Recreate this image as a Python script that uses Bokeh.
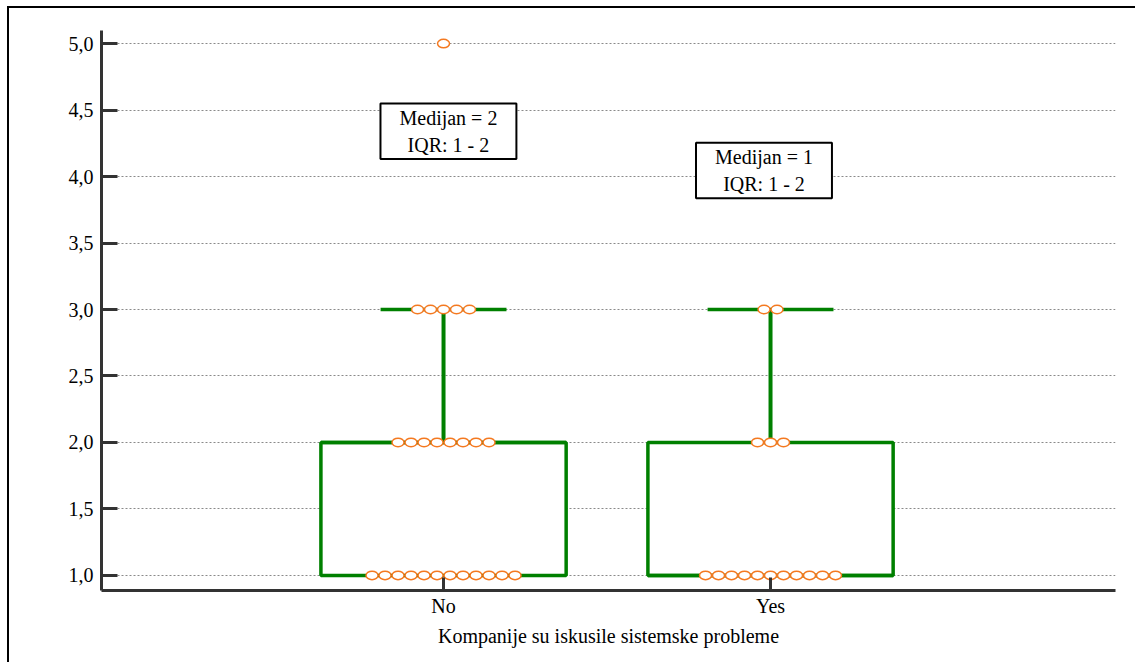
import numpy as np
from bokeh.plotting import figure
from bokeh.models import FixedTicker, CustomJSTickFormatter, Label
from bokeh.embed import file_html
from bokeh.resources import INLINE

# ---- data ----
categories = ["No", "Yes"]
no_levels = [1, 2, 3, 5]
no_counts = [12, 8, 5, 1]
yes_levels = [1, 2, 3]
yes_counts = [11, 3, 2]
annotations = ["Medijan = 2\nIQR: 1 - 2", "Medijan = 1\nIQR: 1 - 2"]
y_ticks = [1.0, 1.5, 2.0, 2.5, 3.0, 3.5, 4.0, 4.5, 5.0]
y_tick_labels = ["1,0", "1,5", "2,0", "2,5", "3,0", "3,5", "4,0", "4,5", "5,0"]
x_title = "Kompanije su iskusile sistemske probleme"

GREEN = "#008000"
ORANGE = "#f47920"
FONT = "Liberation Serif"
FS = "20px"

p = figure(width=1128, height=656, output_backend="svg", toolbar_location=None,
           x_range=(-1.046, 2.055), y_range=(0.887, 5.098),
           min_border_left=92, min_border_top=22, min_border_right=22, min_border_bottom=74,
           background_fill_color="white", border_fill_color="white")
p.outline_line_color = None
p.styles = {"border-left": "2px solid black", "border-top": "2px solid black",
            "margin-left": "7px", "margin-top": "6px"}

groups = [(no_levels, no_counts), (yes_levels, yes_counts)]
dx = 13.0 / 327.0
box_w = 0.75
cap_w = 0.385
for i, (levels, counts) in enumerate(groups):
    vals = np.repeat(levels, counts).astype(float)
    q1, med, q3 = np.percentile(vals, [25, 50, 75])
    iqr = q3 - q1
    hi = vals[vals <= q3 + 1.5 * iqr].max()
    lo = vals[vals >= q1 - 1.5 * iqr].min()
    p.segment(x0=[i], y0=[q3], x1=[i], y1=[hi], line_color=GREEN, line_width=4)
    p.segment(x0=[i], y0=[q1], x1=[i], y1=[lo], line_color=GREEN, line_width=4)
    p.segment(x0=[i - cap_w / 2], y0=[hi], x1=[i + cap_w / 2], y1=[hi], line_color=GREEN, line_width=3.5)
    p.quad(left=[i - box_w / 2], right=[i + box_w / 2], bottom=[q1], top=[q3],
           fill_color="white", line_color=GREEN, line_width=3.5)
    p.segment(x0=[i - box_w / 2], y0=[med], x1=[i + box_w / 2], y1=[med], line_color=GREEN, line_width=3.5)
    xs, ys = [], []
    for lev, c in zip(levels, counts):
        for k in range(c):
            xs.append(i + (k - (c - 1) / 2) * dx)
            ys.append(lev)
    p.ellipse(x=xs, y=ys, width=12, height=8.5, width_units="screen", height_units="screen",
              fill_color="white", line_color=ORANGE, line_width=1.5)

for i, txt in enumerate(annotations):
    ypos = 4.34 if i == 0 else 4.045
    xpos = 0.015 if i == 0 else 0.98
    lab = Label(x=xpos, y=ypos, text=txt, text_align="center", text_baseline="middle",
                text_font=FONT, text_font_size=FS, text_color="black",
                border_line_color="black", border_line_width=2,
                background_fill_color="white", padding=(19, 19, 3, 3), text_line_height=1.25)
    p.add_layout(lab)

# axes
p.xgrid.grid_line_color = None
p.ygrid.grid_line_color = "#8a8a8a"
p.ygrid.grid_line_dash = "2 2"
p.ygrid.grid_line_width = 1
p.yaxis.ticker = FixedTicker(ticks=y_ticks)
p.yaxis.formatter = CustomJSTickFormatter(args=dict(tvals=y_ticks, tlabels=y_tick_labels), code="""
    for (let j = 0; j < tvals.length; j++) { if (Math.abs(tvals[j] - tick) < 1e-9) return tlabels[j]; }
    return '';
""")
p.xaxis.ticker = FixedTicker(ticks=[0, 1])
p.xaxis.major_label_overrides = {0: categories[0], 1: categories[1]}
p.xaxis.axis_label = x_title
for ax in (p.xaxis, p.yaxis):
    ax.axis_line_color = "#333333"
    ax.axis_line_width = 3
    ax.major_tick_line_color = "#333333"
    ax.major_tick_line_width = 3
    ax.major_tick_out = 0
    ax.minor_tick_line_color = None
    ax.major_label_text_font = FONT
    ax.major_label_text_font_size = FS
    ax.major_label_text_color = "black"
p.yaxis.major_tick_in = 16
p.xaxis.major_tick_in = 13
p.yaxis.major_label_standoff = 8
p.xaxis.major_label_standoff = 4
p.xaxis.axis_label_text_font = FONT
p.xaxis.axis_label_text_font_size = FS
p.xaxis.axis_label_text_font_style = "normal"
p.xaxis.axis_label_text_color = "black"
p.xaxis.axis_label_standoff = 5

open("out.html", "w").write(file_html(p, INLINE))
